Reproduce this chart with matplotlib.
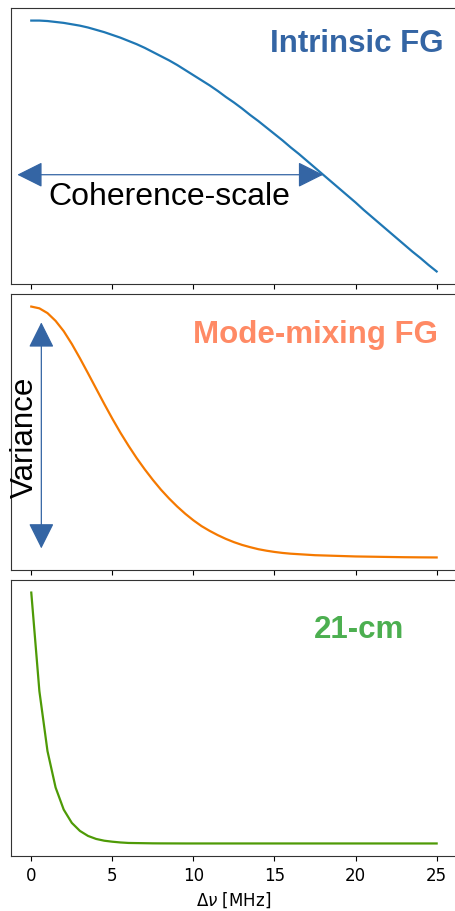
import numpy as np
import matplotlib

matplotlib.use("Agg")
import matplotlib.pyplot as plt

# frequency separation grid [MHz]
dnu = np.linspace(0, 25, 51)

# normalised covariance of each component vs. frequency separation
intrinsic_fg = [
    1.000, 1.000, 0.999, 0.997, 0.995, 0.992, 0.989, 0.985, 0.980, 0.975,
    0.969, 0.963, 0.956, 0.949, 0.941, 0.932, 0.923, 0.914, 0.904, 0.893,
    0.882, 0.871, 0.860, 0.848, 0.835, 0.823, 0.810, 0.796, 0.783, 0.769,
    0.755, 0.741, 0.726, 0.712, 0.697, 0.682, 0.667, 0.652, 0.637, 0.622,
    0.607, 0.591, 0.576, 0.561, 0.546, 0.531, 0.516, 0.501, 0.487, 0.472,
    0.458,
]
mode_mixing_fg = [
    1.000, 0.993, 0.974, 0.943, 0.902, 0.851, 0.794, 0.734, 0.673, 0.612,
    0.553, 0.497, 0.445, 0.396, 0.351, 0.309, 0.270, 0.235, 0.203, 0.174,
    0.148, 0.125, 0.106, 0.089, 0.074, 0.061, 0.050, 0.041, 0.033, 0.027,
    0.022, 0.018, 0.015, 0.013, 0.011, 0.009, 0.008, 0.007, 0.006, 0.005,
    0.004, 0.0035, 0.003, 0.0025, 0.002, 0.0015, 0.001, 0.0007, 0.0004, 0.0002,
    0.000,
]
cosmo_21cm = [
    1.000, 0.607, 0.368, 0.223, 0.135, 0.082, 0.050, 0.030, 0.018, 0.011,
    0.007, 0.004, 0.002, 0.0015, 0.001, 0.0005, 0.0003, 0.0002, 0.0001, 0.0,
    0.0, 0.0, 0.0, 0.0, 0.0, 0.0, 0.0, 0.0, 0.0, 0.0,
    0.0, 0.0, 0.0, 0.0, 0.0, 0.0, 0.0, 0.0, 0.0, 0.0,
    0.0, 0.0, 0.0, 0.0, 0.0, 0.0, 0.0, 0.0, 0.0, 0.0,
    0.0,
]

labels = ["Intrinsic FG", "Mode-mixing FG", "21-cm"]
line_colors = ["#1f77b4", "#f57900", "#4e9a06"]
label_colors = ["#3465a4", "#ff8a65", "#4caf50"]
label_pos = [(0.971, 0.844), (0.957, 0.827), (0.883, 0.795)]

coherence_scale = 18.0  # MHz
arrow_color = "#3465a4"

fig = plt.figure(figsize=(4.55, 9.12), dpi=100)
bottoms = [0.6875, 0.3739, 0.0603]
height = 0.3026
axes = []
for b in bottoms:
    ax = fig.add_axes([0.0242, b, 0.980, height], sharex=axes[0] if axes else None)
    for sp in ax.spines.values():
        sp.set_edgecolor("#333333")
    axes.append(ax)

series = [intrinsic_fg, mode_mixing_fg, cosmo_21cm]
for ax, y, lab, lc, tc, (tx, ty) in zip(axes, series, labels, line_colors,
                                          label_colors, label_pos):
    ax.plot(dnu, y, color=lc, lw=1.6)
    ax.set_yticks([])
    ax.text(tx, ty, lab, transform=ax.transAxes, ha="right", va="baseline",
            color=tc, fontsize=22.5, fontweight="bold",
            family="Liberation Sans")

for ax in axes[:-1]:
    ax.tick_params(labelbottom=False)

axes[-1].set_xticks([0, 5, 10, 15, 20, 25])
axes[-1].tick_params(labelsize=12)
axes[-1].set_xlabel(r"$\Delta\nu$ [MHz]", fontsize=12)

arrow = dict(arrowstyle="<|-|>", color=arrow_color, lw=0.9,
             mutation_scale=40, shrinkA=0, shrinkB=0)

# coherence scale: horizontal arrow reaching the intrinsic FG curve
i_cs = int(np.argmin(np.abs(dnu - coherence_scale)))
y_cs = intrinsic_fg[i_cs]
axes[0].annotate("", xy=(coherence_scale, y_cs), xytext=(-0.86, y_cs),
                 arrowprops=arrow)
axes[0].text(0.083, 0.29, "Coherence-scale", transform=axes[0].transAxes,
             ha="left", va="baseline", fontsize=23, family="Liberation Sans")

# variance: vertical arrow on the mode-mixing panel
axes[1].annotate("", xy=(0.62, 0.937), xytext=(0.62, 0.036), arrowprops=arrow)
axes[1].text(0.030, 0.486, "Variance", transform=axes[1].transAxes,
             rotation=90, ha="center", va="center", fontsize=22.5,
             family="Liberation Sans")

fig.savefig("out.png", dpi=100)
